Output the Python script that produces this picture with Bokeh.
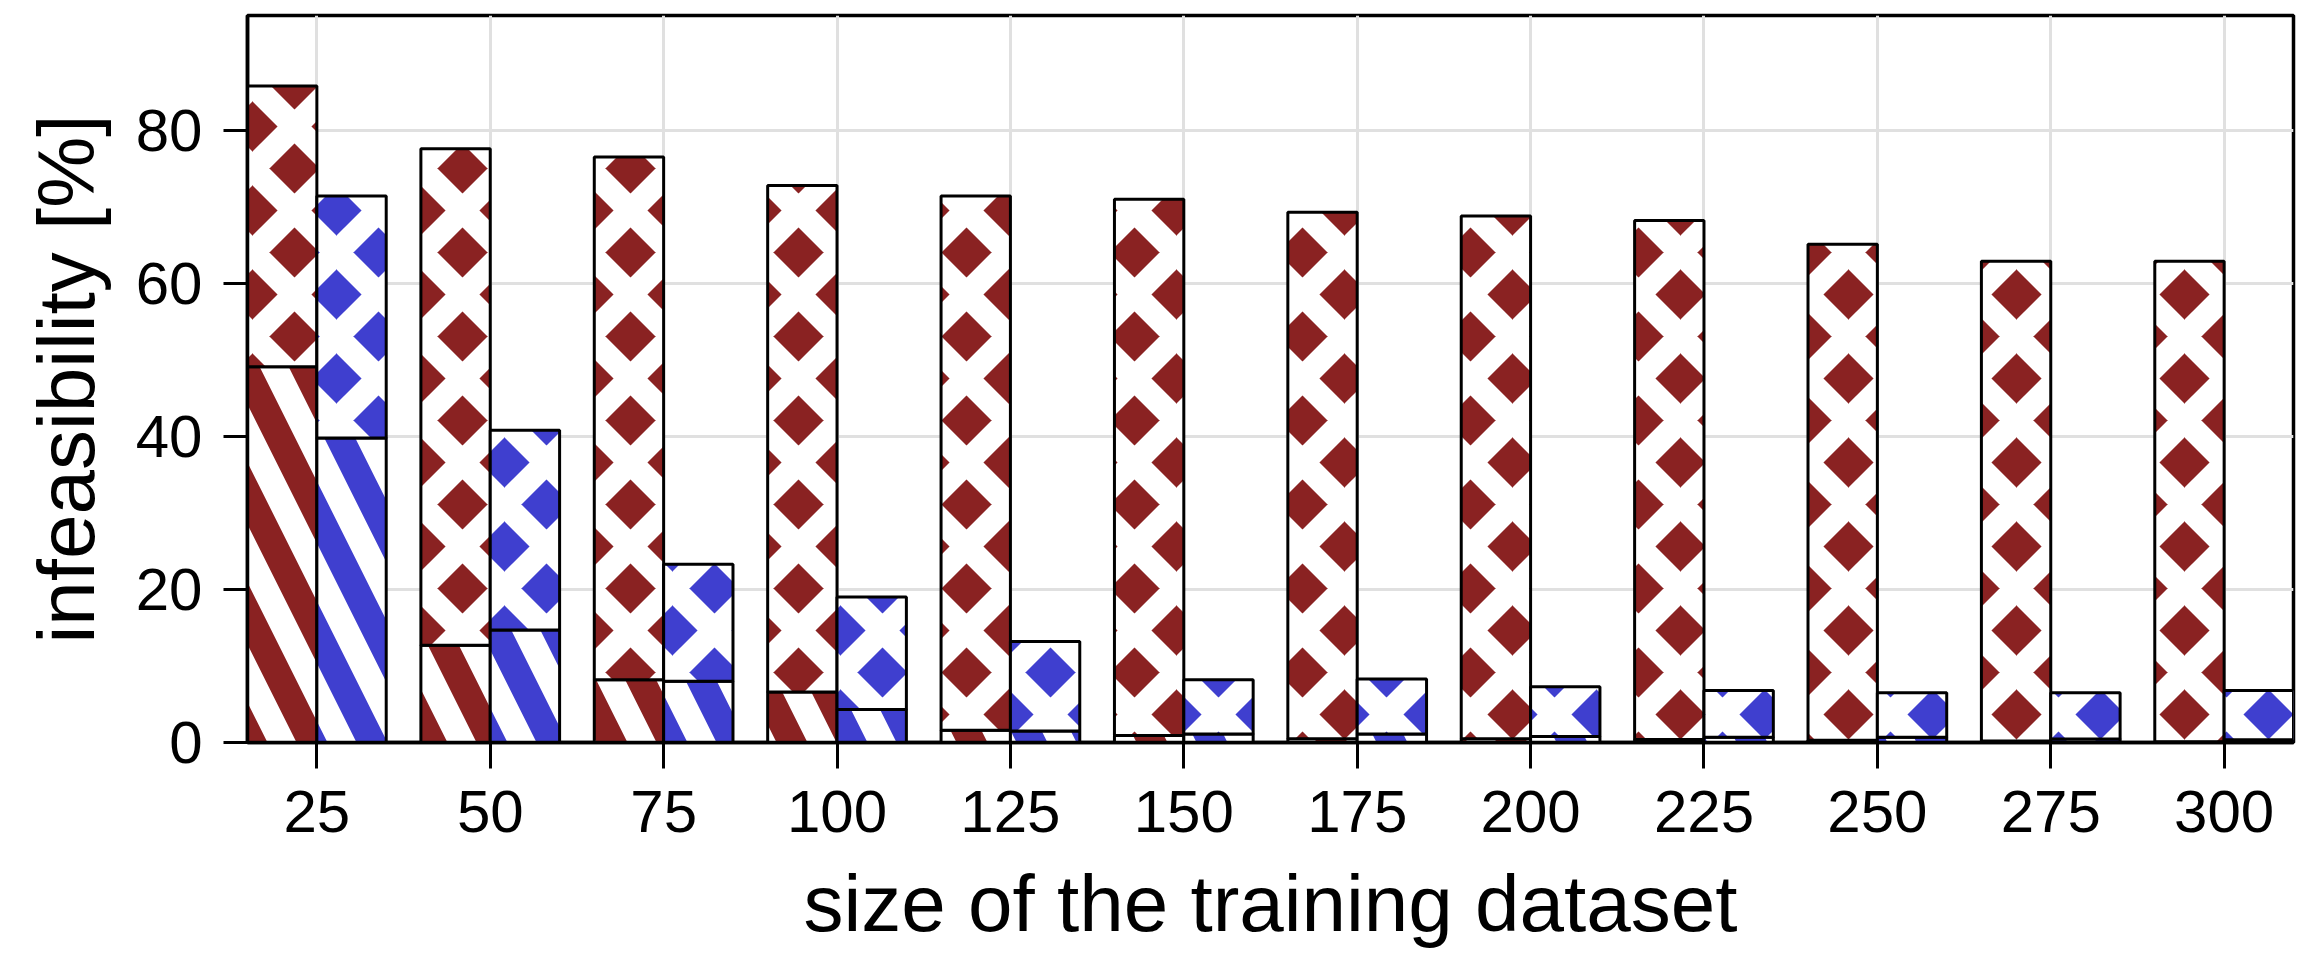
from bokeh.plotting import figure
from bokeh.models import ColumnDataSource, Range1d, FixedTicker
from bokeh.transform import dodge
from bokeh.embed import file_html
from bokeh.resources import INLINE

# training-set sizes and infeasibility shares [%]
sizes = [25, 50, 75, 100, 125, 150, 175, 200, 225, 250, 275, 300]
red_total = [85.8, 77.6, 76.5, 72.8, 71.4, 71.0, 69.3, 68.8, 68.2, 65.1, 62.9, 62.9]
red_low = [49.1, 12.7, 8.2, 6.6, 1.6, 0.9, 0.5, 0.5, 0.4, 0.3, 0.2, 0.1]
blue_total = [71.4, 40.8, 23.3, 19.0, 13.2, 8.2, 8.3, 7.3, 6.8, 6.5, 6.5, 6.8]
blue_low = [39.8, 14.7, 8.0, 4.3, 1.5, 1.1, 1.1, 0.8, 0.7, 0.7, 0.45, 0.35]
y_ticks = [0, 20, 40, 60, 80]

RED = "#8a2222"
BLUE = "#3f3fcf"
FONT = "Liberation Sans"

src = ColumnDataSource(dict(size=sizes, red_total=red_total, red_low=red_low,
                            blue_total=blue_total, blue_low=blue_low))

p = figure(width=2309, height=954, x_range=Range1d(15, 310), y_range=Range1d(0, 95),
           output_backend="svg", toolbar_location=None,
           min_border_left=247, min_border_right=16, min_border_top=15, min_border_bottom=212)
p.background_fill_color = "white"
p.border_fill_color = "white"
p.outline_line_color = "black"
p.outline_line_width = 3.5

bar_style = dict(width=10, line_color="black", line_width=3, hatch_color="white", source=src)
stripe_style = dict(hatch_pattern="left_diagonal_line", hatch_scale=120, hatch_weight=26)
diamond_style = dict(hatch_pattern="diagonal_cross", hatch_scale=84, hatch_weight=24)

for off, low, total, color in [(-5, "red_low", "red_total", RED),
                               (5, "blue_low", "blue_total", BLUE)]:
    xs = dodge("size", off)
    # lower part: striped
    p.vbar(x=xs, bottom=0, top=low, fill_color=color, **stripe_style, **bar_style)
    # upper part: diamonds
    p.vbar(x=xs, bottom=low, top=total, fill_color=color, **diamond_style, **bar_style)

# axes
p.xaxis.ticker = FixedTicker(ticks=sizes)
p.yaxis.ticker = FixedTicker(ticks=y_ticks)
p.xaxis.axis_label = "size of the training dataset"
p.yaxis.axis_label = "infeasibility [%]"
for ax in (p.xaxis, p.yaxis):
    ax.axis_line_width = 3.5
    ax.axis_line_color = "black"
    ax.major_tick_line_width = 3
    ax.major_tick_line_color = "black"
    ax.major_tick_in = 0
    ax.minor_tick_line_color = None
    ax.major_label_text_font = FONT
    ax.major_label_text_font_size = "60px"
    ax.major_label_text_color = "black"
    ax.axis_label_text_font = FONT
    ax.axis_label_text_font_size = "80px"
    ax.axis_label_text_font_style = "normal"
    ax.axis_label_text_color = "black"
p.xaxis.major_tick_out = 26
p.xaxis.major_label_standoff = 22
p.xaxis.axis_label_standoff = 24
p.yaxis.major_tick_out = 24
p.yaxis.major_label_standoff = 21
p.yaxis.axis_label_standoff = 22

# grid
p.xgrid.ticker = FixedTicker(ticks=sizes)
p.ygrid.ticker = FixedTicker(ticks=y_ticks)
for g in (p.xgrid, p.ygrid):
    g.grid_line_color = "#e0e0e0"
    g.grid_line_width = 3

open("out.html", "w").write(file_html(p, INLINE))
